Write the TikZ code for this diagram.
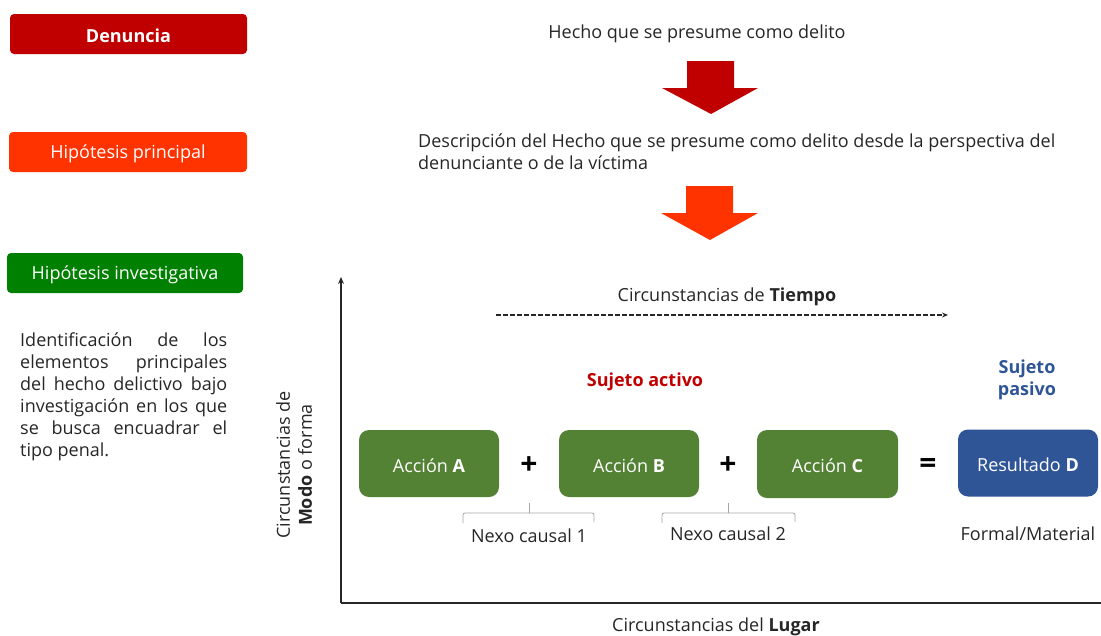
\documentclass[tikz,border=0pt]{standalone}
\usepackage{fontspec}
\setmainfont{Open Sans}
\usetikzlibrary{arrows.meta}
\definecolor{dred}{HTML}{C00000}
\definecolor{orng}{HTML}{FF3300}
\definecolor{grn}{HTML}{008000}
\definecolor{agrn}{HTML}{548235}
\definecolor{dblue}{HTML}{2F5597}
\definecolor{txt}{HTML}{262626}
\newcommand{\dn}[1]{\raisebox{-2pt}[\height][\depth]{#1}}
\tikzset{
  x=1pt, y=-1pt,
  leftbox/.style={rounded corners=4pt, text=white, font=\fontsize{18}{21}\selectfont, minimum width=237pt, minimum height=40pt, inner sep=0pt},
  actbox/.style={rounded corners=10pt, fill=agrn, text=white, font=\fontsize{18}{21}\selectfont, minimum width=140pt, minimum height=67pt, inner sep=0pt},
  plain/.style={text=txt, font=\fontsize{18}{22}\selectfont, inner sep=0pt},
  axis/.style={line width=2pt, draw=txt},
  brace/.style={draw=gray!70, line width=0.8pt, rounded corners=2pt},
  op/.style={font=\fontsize{30}{30}\selectfont\bfseries, inner sep=0pt}
}
\begin{document}
\begin{tikzpicture}
\useasboundingbox (0,0) rectangle (1101,635);
% left boxes
\node[leftbox, fill=dred, font=\fontsize{18}{21}\selectfont\bfseries] (den) at (128.5,34) {\dn{Denuncia}};
\node[leftbox, fill=orng, minimum width=238pt] (hp) at (128,152) {\dn{Hipótesis principal}};
\node[leftbox, fill=grn, minimum width=236pt] (hi) at (125,273) {\dn{Hipótesis investigativa}};
\node[plain, anchor=north west, text width=207pt, align=justify, font=\fontsize{18}{22}\selectfont] (para) at (20,333)
 {\hyphenpenalty=10000 Identificación de los\linebreak elementos principales\linebreak del hecho delictivo bajo\linebreak investigación en los que\linebreak se busca encuadrar el\linebreak tipo penal.};
% top flow
\node[plain] (hecho) at (697,34) {Hecho que se presume como delito};
\fill[dred] (687,61) -- (734,61) -- (734,88) -- (758,88) -- (711,114) -- (662,88) -- (687,88) -- cycle;
\node[plain, anchor=north west, align=left] (desc) at (418,134)
 {Descripción del Hecho que se presume como delito desde la perspectiva del\\denunciante o de la víctima};
\fill[orng] (686,186) -- (733,186) -- (733,213) -- (758,213) -- (710,240) -- (661,213) -- (686,213) -- cycle;
% axes
\coordinate (origin) at (341,603);
\coordinate (ytop) at (341,277);
\coordinate (xend) at (1101,603);
\draw[axis, -{Stealth[length=7pt,width=6pt]}] (origin) -- (ytop);
\draw[axis] (origin) -- (xend);
\node[plain] (tiempo) at (727,297) {Circunstancias de \textbf{Tiempo}};
\coordinate (ds) at (496,315);
\coordinate (de) at (948,315);
\draw[txt, line width=1.2pt, dash pattern=on 4.5pt off 2.5pt, -{Stealth[length=6pt,width=5pt]}] (ds) -- (de);
\node[plain] (lugar) at (716,627) {Circunstancias del \textbf{Lugar}};
\node[plain, rotate=90, align=center] (modo) at (294,465) {Circunstancias de\\\textbf{Modo} o forma};
% subjects
\node[text=dred, font=\fontsize{18}{21}\selectfont\bfseries, inner sep=0pt] (sa) at (645,382) {Sujeto activo};
\node[text=dblue, font=\fontsize{18}{22}\selectfont\bfseries, align=center, inner sep=0pt] (sp) at (1027,380) {Sujeto\\pasivo};
% action boxes
\node[actbox] (a) at (429,463.5) {\dn{Acción \textbf{A}}};
\node[actbox] (b) at (629,463.5) {\dn{Acción \textbf{B}}};
\node[actbox, minimum width=141pt, minimum height=68pt] (c) at (827.5,464) {\dn{Acción \textbf{C}}};
\node[actbox, fill=dblue] (d) at (1028,463) {\dn{Resultado \textbf{D}}};
\node[op] (p1) at (529,466) {+};
\node[op] (p2) at (728,466) {+};
\node[op] (eq) at (928,466) {=};
% braces
\draw[brace] (463,523) -- (463,513) -- (529,513);
\draw[brace] (594,522) -- (594,513) -- (529,513);
\draw[gray!70, line width=0.8pt] (529,513) -- (529,503);
\node[plain] (n1) at (529,536) {Nexo causal 1};
\draw[brace] (662,523) -- (662,513) -- (728,513);
\draw[brace] (795,522) -- (795,513) -- (728,513);
\draw[gray!70, line width=0.8pt] (728,513) -- (728,503);
\node[plain] (n2) at (728,534) {Nexo causal 2};
\node[plain] (fm) at (1028,534) {Formal/Material};
\end{tikzpicture}
\end{document}
